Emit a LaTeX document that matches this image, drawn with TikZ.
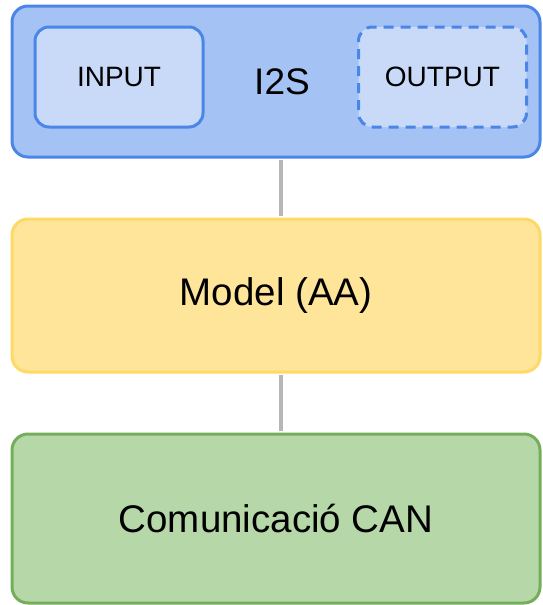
\documentclass[tikz,border=0pt]{standalone}
\usepackage{fontspec}
\setmainfont{Liberation Sans}
\definecolor{blueFill}{HTML}{A4C2F4}
\definecolor{blueLine}{HTML}{4A86E8}
\definecolor{paleBlue}{HTML}{C9DAF8}
\definecolor{yellowFill}{HTML}{FFE599}
\definecolor{yellowLine}{HTML}{FFD966}
\definecolor{greenFill}{HTML}{B6D7A8}
\definecolor{greenLine}{HTML}{74AE5A}
\definecolor{linkGray}{HTML}{B7B7B7}
\tikzset{
  layer/.style={rectangle, rounded corners=16pt, line width=3pt, inner sep=0pt},
  subbox/.style={rectangle, rounded corners=14pt, line width=3pt, draw=blueLine,
    fill=paleBlue, inner sep=0pt, minimum width=168pt, minimum height=100pt,
    font=\fontsize{28}{32}\selectfont},
  link/.style={draw=linkGray, line width=3.5pt},
  bigtext/.style={font=\fontsize{38.5}{44}\selectfont}
}
\begin{document}
\begin{tikzpicture}[x=1pt, y=-1pt]
  \useasboundingbox (0,0) rectangle (542,605);
  % stacked layers
  \node[layer, draw=blueLine, fill=blueFill, minimum width=528pt, minimum height=151pt]
    (i2s) at (276,81.5) {};
  \node[font=\fontsize{37}{42}\selectfont] (i2slabel) at (282,82) {I2S};
  \node[subbox] (input) at (119,77) {INPUT};
  \node[subbox, dash pattern=on 10pt off 7pt] (output) at (442.5,77) {OUTPUT};
  \node[layer, draw=yellowLine, fill=yellowFill, minimum width=528pt, minimum height=153pt, bigtext]
    (model) at (276,295.5) {Model (AA)};
  \node[layer, draw=greenLine, fill=greenFill, minimum width=528pt, minimum height=169pt, bigtext]
    (can) at (276,518.5) {Comunicació CAN};
  % connectors between layers
  \draw[link] ([xshift=5pt,yshift=-1.5pt]i2s.south) -- ([xshift=5pt,yshift=1.5pt]model.north);
  \draw[link] ([xshift=5pt,yshift=-1.5pt]model.south) -- ([xshift=5pt,yshift=1.5pt]can.north);
\end{tikzpicture}
\end{document}
